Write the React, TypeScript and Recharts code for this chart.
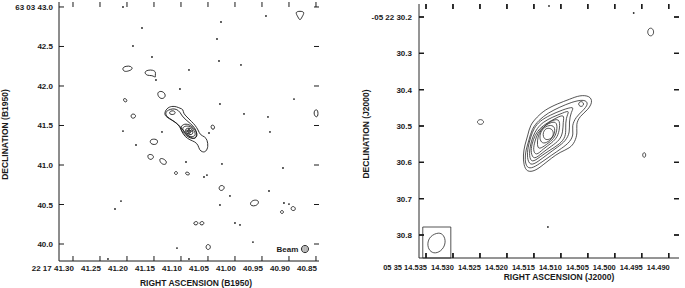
import { ComposedChart, Line, Scatter, XAxis, YAxis, ReferenceLine } from "recharts";

type Pair = [number, number];

const INK = "#1a1a1a";
const GREY = "#2a2a2a";
const FONT = '"Liberation Sans", Arial, Helvetica, sans-serif';

// ---------- left panel (B1950) ----------
const b1950RaTicks = [41.3, 41.25, 41.2, 41.15, 41.1, 41.05, 41.0, 40.95, 40.9, 40.85];
const b1950DecTicks = [40.0, 40.5, 41.0, 41.5, 42.0, 42.5, 43.0];
const b1950RaDomain = [40.8444, 41.3259];
const b1950DecDomain = [39.785, 43.063];

// contour outlines, [RA sec, Dec arcsec]
const b1950Contours: Pair[][] = [
  // main source, outer
  [[41.1265, 41.718], [41.1172, 41.747], [41.108, 41.738], [41.1019, 41.718], [41.0957, 41.705], [41.0957, 41.654], [41.0894, 41.611], [41.0802, 41.548], [41.0741, 41.506], [41.068, 41.443], [41.0648, 41.38], [41.0556, 41.358], [41.0513, 41.316], [41.0494, 41.232], [41.0537, 41.168], [41.0598, 41.161], [41.0661, 41.19], [41.068, 41.253], [41.0741, 41.295], [41.0833, 41.316], [41.0926, 41.358], [41.0987, 41.422], [41.1019, 41.485], [41.108, 41.528], [41.1172, 41.57], [41.1265, 41.604], [41.1315, 41.646]],
  [[41.1241, 41.696], [41.1148, 41.715], [41.1074, 41.703], [41.1019, 41.671], [41.0981, 41.62], [41.0907, 41.57], [41.0815, 41.519], [41.0741, 41.468], [41.0704, 41.405], [41.0722, 41.329], [41.0815, 41.342], [41.0907, 41.392], [41.0981, 41.456], [41.1056, 41.519], [41.1167, 41.57], [41.1259, 41.608], [41.1296, 41.658]],
  [[41.0963, 41.519], [41.0852, 41.519], [41.0741, 41.456], [41.0685, 41.38], [41.0741, 41.329], [41.0852, 41.342], [41.0963, 41.405], [41.1019, 41.468]],
  [[41.0926, 41.494], [41.0833, 41.494], [41.0759, 41.443], [41.0722, 41.38], [41.0778, 41.354], [41.087, 41.367], [41.0944, 41.418], [41.0981, 41.468]],
  [[41.0889, 41.468], [41.0815, 41.468], [41.0778, 41.43], [41.0778, 41.392], [41.0833, 41.38], [41.0907, 41.405], [41.0926, 41.443]],
  [[41.087, 41.449], [41.0824, 41.443], [41.0806, 41.418], [41.0843, 41.399], [41.088, 41.411], [41.0889, 41.437]],
  [[41.1204, 41.684], [41.113, 41.69], [41.1093, 41.658], [41.1148, 41.633], [41.1222, 41.646]],
  // isolated patches
  [[40.8889, 42.937], [40.8796, 42.949], [40.8704, 42.937], [40.8759, 42.873], [40.8796, 42.823], [40.8833, 42.873]],
  [[41.2093, 42.228], [41.2019, 42.253], [41.1926, 42.253], [41.1889, 42.215], [41.1963, 42.19], [41.2056, 42.177]],
  [[41.1685, 42.177], [41.1611, 42.203], [41.1519, 42.203], [41.1463, 42.177], [41.1481, 42.139], [41.1463, 42.101], [41.1537, 42.139], [41.163, 42.127]],
  [[41.1444, 41.911], [41.1389, 41.937], [41.1315, 41.924], [41.1278, 41.873], [41.1333, 41.835], [41.1407, 41.848]],
  [[41.2074, 41.848], [41.2, 41.835], [41.2, 41.797], [41.2056, 41.797]],
  [[41.1926, 41.646], [41.1852, 41.646], [41.1833, 41.614], [41.187, 41.589], [41.1926, 41.595]],
  [[40.8537, 41.696], [40.846, 41.709], [40.846, 41.595], [40.8537, 41.62]],
  [[41.0444, 41.506], [41.0389, 41.506], [41.037, 41.468], [41.0407, 41.443], [41.0444, 41.468]],
  [[41.1574, 41.329], [41.1444, 41.329], [41.1426, 41.291], [41.1463, 41.253], [41.1574, 41.266]],
  [[41.163, 41.127], [41.1556, 41.139], [41.15, 41.114], [41.1519, 41.076], [41.1593, 41.063]],
  [[41.1407, 41.076], [41.1352, 41.089], [41.1259, 41.051], [41.1278, 41.0], [41.137, 41.013]],
  [[41.113, 40.911], [41.1074, 40.924], [41.1056, 40.886], [41.1111, 40.873]],
  [[41.0926, 40.911], [41.0852, 40.911], [41.0833, 40.873], [41.0907, 40.873]],
  [[41.0296, 40.734], [41.0222, 40.747], [41.0185, 40.709], [41.0241, 40.671], [41.0296, 40.684]],
  [[40.9722, 40.519], [40.9667, 40.557], [40.9574, 40.557], [40.9556, 40.519], [40.9611, 40.481], [40.9704, 40.481]],
  [[40.8963, 40.468], [40.8907, 40.481], [40.887, 40.443], [40.8907, 40.418], [40.8963, 40.43]],
  [[40.9167, 40.418], [40.9111, 40.43], [40.9093, 40.392], [40.9148, 40.38]],
  [[41.0759, 40.278], [41.0704, 40.291], [41.0676, 40.259], [41.0722, 40.234], [41.0769, 40.253]],
  [[41.0648, 40.278], [41.0593, 40.291], [41.0565, 40.259], [41.0611, 40.234], [41.0658, 40.253]],
  [[41.0537, 39.987], [41.0481, 40.0], [41.0444, 39.962], [41.0481, 39.924], [41.0537, 39.937]],
  // beam
  [[40.863, 39.937], [40.8652, 39.972], [40.8704, 39.987], [40.8756, 39.972], [40.8778, 39.937], [40.8756, 39.901], [40.8704, 39.886], [40.8652, 39.901]],
];

const b1950BeamHatch: Pair[][] = [
  [[40.8741, 39.972], [40.8741, 39.902]],
  [[40.8704, 39.976], [40.8704, 39.896]],
  [[40.8667, 39.972], [40.8667, 39.902]],
];

const b1950Specks: Pair[] = [
  [41.2074, 43.0], [40.9426, 42.886], [41.0259, 42.81], [41.1722, 42.734], [41.0333, 42.595],
  [41.1889, 42.506], [41.1537, 42.367], [41.0296, 42.316], [40.9889, 42.266], [41.1463, 42.076],
  [41.0852, 42.203], [41.1019, 41.962], [40.8907, 41.835], [41.0278, 41.772], [40.9833, 41.646],
  [40.9389, 41.608], [41.2074, 41.43], [41.1352, 41.418], [40.9352, 41.418], [41.0481, 41.405],
  [41.1833, 41.253], [41.0907, 41.038], [41.0241, 41.013], [40.9111, 40.962], [41.0519, 40.873],
  [41.0574, 40.848], [41.0093, 40.608], [40.937, 40.671], [41.2111, 40.544], [41.0278, 40.494],
  [40.9093, 40.519], [40.9, 40.506], [41.2222, 40.443], [41.0, 40.266], [40.9907, 40.241],
  [40.9667, 40.025], [41.1074, 39.949], [41.2352, 39.81], [41.0852, 39.81],
];

const b1950Peak: Pair[] = [[41.0852, 41.43]];
const b1950BeamLabel: Pair[] = [[40.9028, 39.937]];

// ---------- right panel (J2000) ----------
const j2000RaTicks = [14.535, 14.53, 14.525, 14.52, 14.515, 14.51, 14.505, 14.5, 14.495, 14.49];
const j2000DecTicks = [30.2, 30.3, 30.4, 30.5, 30.6, 30.7, 30.8];
const j2000RaDomain = [14.4881, 14.5363];
const j2000DecDomain = [30.1642, 30.8633];

const j2000Contours: Pair[][] = [
  [[14.5065, 30.415], [14.5046, 30.417], [14.5041, 30.434], [14.505, 30.456], [14.5065, 30.473], [14.5072, 30.495], [14.5069, 30.519], [14.5074, 30.544], [14.5083, 30.561], [14.5102, 30.572], [14.5117, 30.588], [14.5133, 30.607], [14.5148, 30.624], [14.5163, 30.627], [14.5169, 30.607], [14.517, 30.58], [14.5167, 30.552], [14.5161, 30.525], [14.5157, 30.497], [14.5144, 30.475], [14.513, 30.456], [14.5107, 30.439], [14.5083, 30.426]],
  [[14.508, 30.434], [14.5056, 30.426], [14.5048, 30.439], [14.506, 30.459], [14.5072, 30.475], [14.508, 30.5], [14.5076, 30.522], [14.5083, 30.544], [14.5098, 30.561], [14.5117, 30.58], [14.5135, 30.599], [14.5152, 30.616], [14.5163, 30.616], [14.5167, 30.594], [14.5165, 30.566], [14.5159, 30.539], [14.5154, 30.508], [14.5141, 30.484], [14.5124, 30.464], [14.5102, 30.448]],
  [[14.5098, 30.456], [14.5074, 30.445], [14.5081, 30.461], [14.5085, 30.489], [14.5083, 30.517], [14.5091, 30.541], [14.5106, 30.558], [14.5124, 30.577], [14.5143, 30.599], [14.5157, 30.61], [14.5163, 30.588], [14.5161, 30.558], [14.5156, 30.53], [14.515, 30.506], [14.5139, 30.486], [14.512, 30.47]],
  [[14.5096, 30.464], [14.5083, 30.456], [14.5091, 30.478], [14.5091, 30.506], [14.5091, 30.53], [14.5102, 30.55], [14.512, 30.566], [14.5139, 30.585], [14.5154, 30.602], [14.5159, 30.583], [14.5157, 30.555], [14.5152, 30.528], [14.5144, 30.506], [14.5133, 30.489], [14.5115, 30.475]],
  [[14.5109, 30.478], [14.5093, 30.467], [14.5096, 30.489], [14.5096, 30.517], [14.5102, 30.539], [14.5117, 30.555], [14.5135, 30.574], [14.515, 30.594], [14.5156, 30.574], [14.5154, 30.55], [14.5148, 30.525], [14.5139, 30.506], [14.5126, 30.492]],
  [[14.5119, 30.486], [14.5102, 30.478], [14.5102, 30.506], [14.5106, 30.53], [14.5117, 30.547], [14.5133, 30.563], [14.5146, 30.583], [14.5152, 30.566], [14.5148, 30.541], [14.5143, 30.519], [14.5133, 30.503]],
  [[14.5117, 30.489], [14.5107, 30.489], [14.5107, 30.514], [14.5113, 30.536], [14.5126, 30.55], [14.5141, 30.566], [14.5144, 30.552], [14.5143, 30.53], [14.5137, 30.511], [14.5128, 30.497]],
  [[14.5122, 30.497], [14.5111, 30.5], [14.5111, 30.522], [14.512, 30.541], [14.5133, 30.55], [14.5139, 30.539], [14.5139, 30.522], [14.5133, 30.506]],
  [[14.512, 30.506], [14.5115, 30.511], [14.5113, 30.525], [14.5119, 30.536], [14.5128, 30.539], [14.5133, 30.53], [14.5133, 30.517], [14.5128, 30.506]],
  [[14.5057, 30.4395], [14.506, 30.4464], [14.5065, 30.4464], [14.5068, 30.4395], [14.5065, 30.4326], [14.506, 30.4326]],
  // isolated patches
  [[14.4927, 30.2413], [14.493, 30.2523], [14.4937, 30.2523], [14.494, 30.2413], [14.4937, 30.2303], [14.493, 30.2303]],
  [[14.5242, 30.489], [14.5246, 30.4959], [14.5252, 30.4959], [14.5256, 30.489], [14.5252, 30.4821], [14.5246, 30.4821]],
  [[14.4942, 30.5798], [14.4944, 30.5867], [14.4947, 30.5867], [14.4949, 30.5798], [14.4947, 30.573], [14.4944, 30.573]],
  // beam
  [[14.5326, 30.7918], [14.5317, 30.8], [14.5313, 30.8193], [14.5319, 30.8413], [14.5333, 30.8523], [14.5344, 30.8441], [14.5348, 30.8248], [14.5343, 30.8028]],
];

const j2000BeamBox: Pair[] = [[14.5356, 30.778], [14.5304, 30.778], [14.5304, 30.8633], [14.5356, 30.8633]];
const j2000Specks: Pair[] = [[14.5122, 30.1697], [14.4965, 30.189], [14.5124, 30.778]];

const xy = (a: Pair[]) => a.map(([x, y]) => ({ x, y }));

// tick positions along each side of the frame (x is RA, y is Dec)
const frameTicks = (raTicks: number[], decTicks: number[], raDom: number[], decDom: number[], decRev: boolean) => ({
  bottom: raTicks.map((x) => ({ x, y: decRev ? decDom[1] : decDom[0] })),
  top: raTicks.map((x) => ({ x, y: decRev ? decDom[0] : decDom[1] })),
  left: decTicks.map((y) => ({ x: raDom[1], y })),
  right: decTicks.map((y) => ({ x: raDom[0], y })),
});

// short inward segments for the J2000 frame; 5 px expressed in axis units
const raPer5px = (5 * (j2000RaDomain[1] - j2000RaDomain[0])) / 260;
const decPer5px = (5 * (j2000DecDomain[1] - j2000DecDomain[0])) / 254;
const j2000TickSegments = [
  ...j2000RaTicks.map((t) => [{ x: t, y: j2000DecDomain[1] }, { x: t, y: j2000DecDomain[1] - decPer5px }]),
  ...j2000RaTicks.map((t) => [{ x: t, y: j2000DecDomain[0] }, { x: t, y: j2000DecDomain[0] + decPer5px }]),
  ...j2000DecTicks.map((d) => [{ x: j2000RaDomain[1] - raPer5px, y: d }, { x: j2000RaDomain[1], y: d }]),
  ...j2000DecTicks.map((d) => [{ x: j2000RaDomain[0], y: d }, { x: j2000RaDomain[0] + raPer5px, y: d }]),
];

const fmtB1950Ra = (v: number) => (v === 41.3 ? "22 17 41.30" : v.toFixed(2));
const fmtB1950Dec = (v: number) => (v === 43 ? "63 03 43.0" : v.toFixed(1));
const fmtJ2000Ra = (v: number) => (v === 14.535 ? "05 35 14.535" : v.toFixed(3));
const fmtJ2000Dec = (v: number) => (v === 30.2 ? "-05 22 30.2" : v.toFixed(1));

const labelStyle = { fontFamily: FONT, fontSize: 8, fontWeight: 700, fill: INK };

const xTickText = (fmt: (v: number) => string, dy: number, size: number) => (p: any) => (
  <text x={p.x + 1} y={p.y + dy} textAnchor="end" style={{ ...labelStyle, fontSize: size }}>
    {fmt(p.payload.value)}
  </text>
);

const yTickText = (fmt: (v: number) => string, dx: number) => (p: any) => (
  <text x={p.x + dx} y={p.y + 3} textAnchor="end" style={labelStyle}>
    {fmt(p.payload.value)}
  </text>
);

const xTitle = (text: string, dx: number, dy: number) => (p: any) => {
  const vb = p.viewBox;
  return (
    <text x={vb.x + vb.width / 2 + dx} y={vb.y + dy} textAnchor="middle" style={{ ...labelStyle, fontSize: 8.5 }}>
      {text}
    </text>
  );
};

const yTitle = (text: string, dx: number, dy: number) => (p: any) => {
  const vb = p.viewBox;
  const cx = vb.x + dx;
  const cy = vb.y + vb.height / 2 + dy;
  return (
    <text x={cx} y={cy} textAnchor="middle" dominantBaseline="central" transform={`rotate(-90 ${cx} ${cy})`} style={{ ...labelStyle, fontSize: 8.5 }}>
      {text}
    </text>
  );
};

const mark = (dx: number, dy: number, color: string) => (p: any) => (
  <line x1={p.cx} y1={p.cy} x2={p.cx + dx} y2={p.cy + dy} stroke={color} strokeWidth={1} />
);
const dot = (color: string) => (p: any) => <circle cx={p.cx} cy={p.cy} r={0.9} fill={color} />;
const cross = (p: any) => (
  <g stroke={INK} strokeWidth={0.9}>
    <line x1={p.cx - 3} x2={p.cx + 3} y1={p.cy} y2={p.cy} />
    <line x1={p.cx} x2={p.cx} y1={p.cy - 3} y2={p.cy + 3} />
  </g>
);
const beamText = (p: any) => (
  <text x={p.cx} y={p.cy + 3} textAnchor="middle" style={labelStyle}>
    Beam
  </text>
);

const b1950Frame = frameTicks(b1950RaTicks, b1950DecTicks, b1950RaDomain, b1950DecDomain, false);
const j2000Frame = frameTicks(j2000RaTicks, j2000DecTicks, j2000RaDomain, j2000DecDomain, true);

const B1950Panel = () => (
  <ComposedChart width={345} height={288} margin={{ top: 2, right: 26, bottom: 0, left: 0 }}>
    <XAxis xAxisId={0} type="number" dataKey="x" domain={b1950RaDomain} reversed allowDataOverflow ticks={b1950RaTicks} interval={0}
      height={27} tickSize={0} tickMargin={0} tickLine={false} axisLine={{ stroke: INK }}
      tick={xTickText(fmtB1950Ra, 10, 8)} label={xTitle("RIGHT ASCENSION (B1950)", 7, 25)} />
    <XAxis xAxisId="top" orientation="top" type="number" dataKey="x" domain={b1950RaDomain} reversed ticks={b1950RaTicks} interval={0}
      height={0} tickSize={0} tickLine={false} axisLine={{ stroke: INK }} tick={false} />
    <YAxis yAxisId={0} type="number" dataKey="y" domain={b1950DecDomain} allowDataOverflow ticks={b1950DecTicks} interval={0}
      width={59} tickSize={0} tickMargin={0} tickLine={false} axisLine={{ stroke: INK }}
      tick={yTickText(fmtB1950Dec, -6)} label={yTitle("DECLINATION (B1950)", 5, 3)} />
    <YAxis yAxisId="right" orientation="right" type="number" dataKey="y" domain={b1950DecDomain} ticks={b1950DecTicks} interval={0}
      width={0} tickSize={0} tickLine={false} axisLine={{ stroke: INK }} tick={false} />
    {b1950Contours.map((c, i) => (
      <Line key={`bc${i}`} data={xy(c)} dataKey="y" type="basisClosed" stroke={INK} strokeWidth={0.9}
        dot={false} activeDot={false} isAnimationActive={false} />
    ))}
    {b1950BeamHatch.map((c, i) => (
      <Line key={`bh${i}`} data={xy(c)} dataKey="y" type="linear" stroke={INK} strokeWidth={0.6}
        dot={false} activeDot={false} isAnimationActive={false} />
    ))}
    <Scatter data={xy(b1950Specks)} dataKey="y" shape={dot(INK)} isAnimationActive={false} />
    <Scatter data={xy(b1950Peak)} dataKey="y" shape={cross} isAnimationActive={false} />
    <Scatter data={xy(b1950BeamLabel)} dataKey="y" shape={beamText} isAnimationActive={false} />
    <Scatter xAxisId="top" yAxisId="right" data={b1950Frame.bottom} dataKey="y" shape={mark(0, -5, INK)} isAnimationActive={false} />
    <Scatter xAxisId="top" yAxisId="right" data={b1950Frame.top} dataKey="y" shape={mark(0, 5, INK)} isAnimationActive={false} />
    <Scatter xAxisId="top" yAxisId="right" data={b1950Frame.left} dataKey="y" shape={mark(5, 0, INK)} isAnimationActive={false} />
    <Scatter xAxisId="top" yAxisId="right" data={b1950Frame.right} dataKey="y" shape={mark(-5, 0, INK)} isAnimationActive={false} />
  </ComposedChart>
);

const J2000Panel = () => (
  <ComposedChart width={340} height={288} margin={{ top: 4, right: 6, bottom: 0, left: 0 }}>
    <XAxis xAxisId={0} type="number" dataKey="x" domain={j2000RaDomain} reversed ticks={j2000RaTicks} interval={0}
      height={30} tickSize={0} tickMargin={0} tickLine={false} axisLine={{ stroke: GREY }}
      tick={xTickText(fmtJ2000Ra, 12, 7.5)} label={xTitle("RIGHT ASCENSION (J2000)", 10, 22)} />
    <XAxis xAxisId="top" orientation="top" type="number" dataKey="x" domain={j2000RaDomain} reversed ticks={j2000RaTicks} interval={0}
      height={0} tickSize={0} tickLine={false} axisLine={{ stroke: GREY }} tick={false} />
    <YAxis yAxisId={0} type="number" dataKey="y" domain={j2000DecDomain} reversed ticks={j2000DecTicks} interval={0}
      width={74} tickSize={0} tickMargin={0} tickLine={false} axisLine={{ stroke: GREY }}
      tick={yTickText(fmtJ2000Dec, -7)} label={yTitle("DECLINATION (J2000)", 21, 3)} />
    <YAxis yAxisId="right" orientation="right" type="number" dataKey="y" domain={j2000DecDomain} reversed ticks={j2000DecTicks} interval={0}
      width={0} tickSize={0} tickLine={false} axisLine={{ stroke: GREY }} tick={false} />
    {j2000Contours.map((c, i) => (
      <Line key={`jc${i}`} data={xy(c)} dataKey="y" type="basisClosed" stroke={GREY} strokeWidth={0.8}
        dot={false} activeDot={false} isAnimationActive={false} />
    ))}
    <Line data={xy(j2000BeamBox)} dataKey="y" type="linearClosed" stroke={GREY} strokeWidth={0.8}
      dot={false} activeDot={false} isAnimationActive={false} />
    {j2000TickSegments.map((s, i) => (
      <Line key={`jt${i}`} data={s} dataKey="y" type="linear" stroke={INK} strokeWidth={1.1}
        dot={false} activeDot={false} isAnimationActive={false} />
    ))}
    {j2000TickSegments.map((s, i) => (
      <ReferenceLine key={`jr${i}`} segment={s} stroke={INK} strokeWidth={1.1} ifOverflow="visible" />
    ))}
    <Scatter data={xy(j2000Specks)} dataKey="y" shape={dot(GREY)} isAnimationActive={false} />
    <Scatter xAxisId="top" yAxisId="right" data={j2000Frame.bottom} dataKey="y" shape={mark(0, -5, INK)} isAnimationActive={false} />
    <Scatter xAxisId="top" yAxisId="right" data={j2000Frame.top} dataKey="y" shape={mark(0, 5, INK)} isAnimationActive={false} />
    <Scatter xAxisId="top" yAxisId="right" data={j2000Frame.left} dataKey="y" shape={mark(5, 0, INK)} isAnimationActive={false} />
    <Scatter xAxisId="top" yAxisId="right" data={j2000Frame.right} dataKey="y" shape={mark(-5, 0, INK)} isAnimationActive={false} />
  </ComposedChart>
);

export default function App() {
  return (
    <div style={{ position: "absolute", left: 0, top: 0, width: 685, height: 288, background: "#fff" }}>
      <div style={{ position: "absolute", left: 0, top: 0 }}>
        <B1950Panel />
      </div>
      <div style={{ position: "absolute", left: 345, top: 0 }}>
        <J2000Panel />
      </div>
    </div>
  );
}
